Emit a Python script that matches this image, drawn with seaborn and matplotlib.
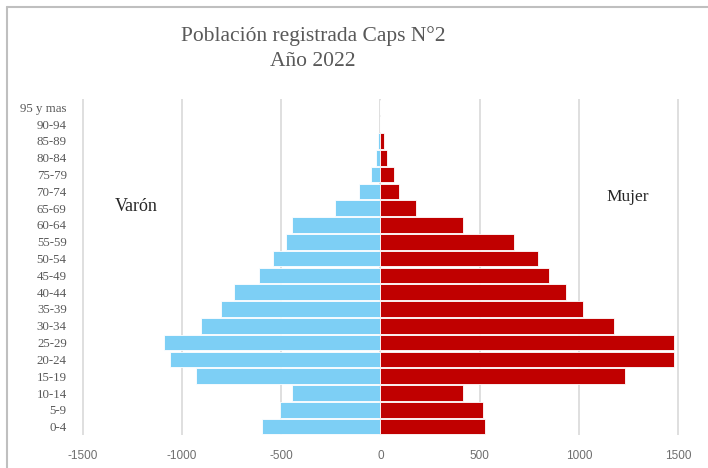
import pandas as pd
import seaborn as sns
import matplotlib.pyplot as plt
from matplotlib.lines import Line2D

sns.set_style("white")

# age groups, top to bottom
age_groups = ["95 y mas", "90-94", "85-89", "80-84", "75-79", "70-74", "65-69",
              "60-64", "55-59", "50-54", "45-49", "40-44", "35-39", "30-34",
              "25-29", "20-24", "15-19", "10-14", "5-9", "0-4"]
varon = [0, 0, 15, 25, 50, 110, 230, 445, 475, 540, 610, 740, 805, 905,
         1090, 1060, 930, 445, 505, 595]
mujer = [0, 0, 18, 32, 67, 92, 181, 418, 671, 793, 852, 933, 1022, 1176,
         1481, 1481, 1233, 418, 517, 527]
x_ticks = [-1500, -1000, -500, 0, 500, 1000, 1500]

df = pd.DataFrame({"edad": age_groups,
                   "Varón": [-v for v in varon],
                   "Mujer": mujer})

fig = plt.figure(figsize=(7.08, 4.68), dpi=100)
ax = fig.add_axes([0.1158, 0.0705, 0.8432, 0.718])

sns.barplot(data=df, y="edad", x="Varón", color="#7DCFF5", orient="h",
            width=0.92, edgecolor="white", linewidth=0.6, saturation=1, ax=ax)
sns.barplot(data=df, y="edad", x="Mujer", color="#C00000", orient="h",
            width=0.92, edgecolor="white", linewidth=0.6, saturation=1, ax=ax)

ax.set_xlim(-1505, 1505)
ax.set_xticks(x_ticks)
ax.set_xticklabels([str(t) for t in x_ticks])
ax.xaxis.grid(True, color="#D9D9D9", linewidth=1.2)
ax.set_axisbelow(True)
ax.set_xlabel("")
ax.set_ylabel("")
for s in ax.spines.values():
    s.set_visible(False)
ax.tick_params(axis="x", length=0, pad=11, labelsize=8.5, labelcolor="#6E6E6E")
ax.tick_params(axis="y", length=0, pad=11, labelsize=9.3, labelcolor="#595959")
for lab in ax.get_xticklabels():
    lab.set_fontfamily("Liberation Sans")
for lab in ax.get_yticklabels():
    lab.set_fontfamily("Liberation Serif")

fig.text(0.442, 0.896, "Población registrada Caps N°2\nAño 2022", ha="center", va="center",
         fontsize=15.5, family="Liberation Serif", color="#595959", linespacing=1.4)
fig.text(0.193, 0.558, "Varón", ha="center", va="center", fontsize=13,
         family="Liberation Serif", color="#262626")
fig.text(0.887, 0.579, "Mujer", ha="center", va="center", fontsize=12.5,
         family="Liberation Serif", color="#262626")

# chart frame, as in the cropped screenshot
fig.add_artist(Line2D([7 / 708, 7 / 708], [0, 1 - 7 / 468], color="#BFBFBF", lw=1.5))
fig.add_artist(Line2D([7 / 708, 1], [1 - 7 / 468, 1 - 7 / 468], color="#BFBFBF", lw=1.5))

fig.savefig("out.png", dpi=100)
